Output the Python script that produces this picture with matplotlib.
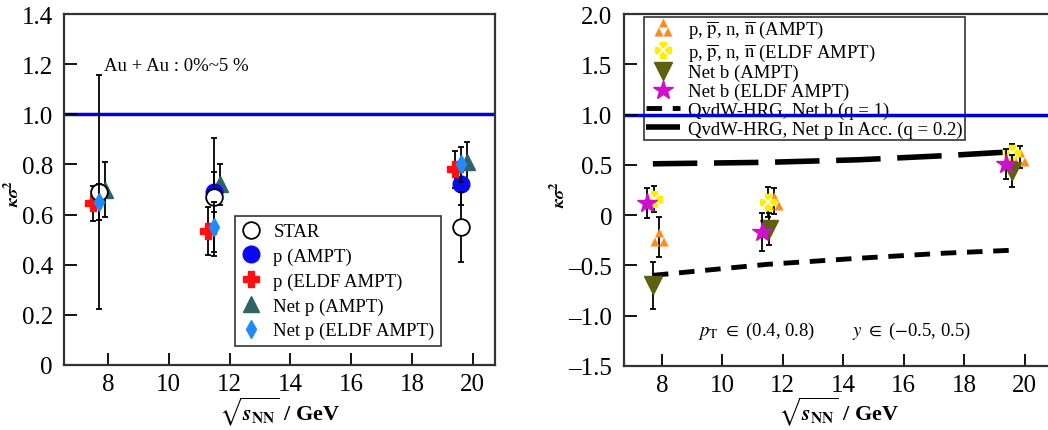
import numpy as np
import matplotlib
matplotlib.use("Agg")
import matplotlib.pyplot as plt
from matplotlib.path import Path
from matplotlib.ticker import FuncFormatter

plt.rcParams['font.family'] = ['Liberation Serif', 'DejaVu Serif']
plt.rcParams['mathtext.fontset'] = 'stix'

# ---- left panel: proton kappa*sigma^2
star_x = [7.7, 11.5, 19.6]
star_y = [0.69, 0.67, 0.55]
star_e = [0.465, 0.235, 0.14]

pa_x = [7.7, 11.5, 19.6]
pa_y = [0.69, 0.69, 0.72]
pa_e = [0.03, 0.08, 0.08]

pe_x = [7.5, 11.3, 19.4]
pe_y = [0.645, 0.535, 0.78]
pe_e = [0.07, 0.095, 0.075]

npa_x = [7.9, 11.7, 19.8]
npa_y = [0.70, 0.72, 0.81]
npa_e = [0.11, 0.08, 0.08]

npe_x = [7.7, 11.5, 19.6]
npe_y = [0.65, 0.55, 0.80]
npe_e = [0.07, 0.10, 0.07]

# ---- right panel: baryon kappa*sigma^2
nb4a_x = [7.9, 11.7, 19.85]
nb4a_y = [-0.22, 0.14, 0.58]
nb4a_e = [0.20, 0.13, 0.11]

nb4e_x = [7.75, 11.5, 19.6]
nb4e_y = [0.16, 0.13, 0.62]
nb4e_e = [0.13, 0.15, 0.09]

nba_x = [7.7, 11.55, 19.6]
nba_y = [-0.70, -0.14, 0.44]
nba_e = [0.23, 0.16, 0.16]

nbe_x = [7.5, 11.3, 19.4]
nbe_y = [0.12, -0.17, 0.51]
nbe_e = [0.15, 0.19, 0.15]

hrg_x = [7.7, 11.5, 14.5, 17.3, 19.6]
hrg_b = [-0.60, -0.49, -0.43, -0.38, -0.35]
hrg_p = [0.51, 0.525, 0.55, 0.59, 0.63]

# triangle split into three (white hole in the middle)
M, L, C = Path.MOVETO, Path.LINETO, Path.CLOSEPOLY
tri3 = Path([(0, 1), (-0.5, 0), (0.5, 0), (0, 1),
             (-0.5, 0), (-1, -1), (0, -1), (-0.5, 0),
             (0.5, 0), (0, -1), (1, -1), (0.5, 0)],
            [M, L, L, C] * 3)

fig = plt.figure(figsize=(10.48, 4.31), dpi=100)
ax1 = fig.add_axes([0.061, 0.151, 0.411, 0.814])
ax2 = fig.add_axes([0.595, 0.149, 0.41, 0.816])

eb = dict(ecolor='black', elinewidth=1.3, capsize=2.5, capthick=1.3, linestyle='none')

def style(ax, xlab):
    for s in ax.spines.values():
        s.set_linewidth(1.6)
        s.set_color('#333333')
    ax.tick_params(direction='in', length=9, width=1.3, labelsize=18, pad=6,
                   top=False, right=False)
    ax.tick_params(axis='y', pad=8)
    ax.set_xticks([8, 10, 12, 14, 16, 18, 20])
    ax.set_xlabel(r'$\sqrt{\mathbfit{s}_{\mathbf{NN}}}$ / GeV', fontsize=16,
                  fontweight='bold', labelpad=-1)
    ax.set_ylabel(r'$\mathbfit{\kappa\sigma}^{\mathbf{2}}$', fontsize=13)
    ax.yaxis.set_label_coords(xlab, 0.49)

def fmt(v, p):
    if abs(v) < 1e-9:
        return '0'
    return f'{v:.1f}'.replace('-', '\u2013')

# left
ax1.axhline(1.0, color='#0000dd', lw=2.5, zorder=1)
h1 = ax1.errorbar(star_x, star_y, yerr=star_e, marker='o', ms=12, mfc='white',
                  mec='black', mew=1.3, zorder=6, **eb)
h2 = ax1.errorbar(pa_x, pa_y, yerr=pa_e, marker='o', ms=12, mfc='#0a0af0',
                  mec='#0a0af0', zorder=5, **eb)
h3 = ax1.errorbar(pe_x, pe_y, yerr=pe_e, marker='P', ms=12, mfc='#ff1010',
                  mec='#ff1010', zorder=5, **eb)
h4 = ax1.errorbar(npa_x, npa_y, yerr=npa_e, marker='^', ms=11, mfc='#2f6464',
                  mec='#2f6464', zorder=4, **eb)
h5 = ax1.errorbar(npe_x, npe_y, yerr=npe_e, marker='d', ms=9, mfc='#1e8cff',
                  mec='#1e8cff', zorder=7, **eb)
ax1.text(7.87, 1.175, 'Au + Au : 0%~5 %', fontsize=13.5)
ax1.set_xlim(6.55, 20.72)
ax1.set_ylim(0, 1.4)
ax1.set_yticks(np.arange(0, 1.41, 0.2))
ax1.yaxis.set_major_formatter(FuncFormatter(fmt))
style(ax1, -0.095)
leg1 = ax1.legend([h1[0], h2[0], h3[0], h4[0], h5[0]],
                  ['STAR', 'p (AMPT)', 'p (ELDF AMPT)', 'Net p (AMPT)', 'Net p (ELDF AMPT)'],
                  loc='lower left', bbox_to_anchor=(0.397, 0.054), fontsize=13.5,
                  fancybox=False, edgecolor='#333333', framealpha=1,
                  handlelength=1.0, handletextpad=0.7, labelspacing=0.4,
                  borderpad=0.35, borderaxespad=0)
leg1.get_frame().set_linewidth(1.2)

# right
ax2.axhline(1.0, color='#0000dd', lw=2.5, zorder=1)
g1 = ax2.errorbar(nb4a_x, nb4a_y, yerr=nb4a_e, marker=tri3, ms=13, mfc='#ff8c1a',
                  mec='none', zorder=4, **eb)
g2 = ax2.errorbar(nb4e_x, nb4e_y, yerr=nb4e_e, marker='P', ms=12, mfc='#ffee00',
                  mec='#ffee00', zorder=5, **eb)
g2w, = ax2.plot(nb4e_x, nb4e_y, linestyle='none', marker='x', ms=6, mec='white',
                mew=1.3, zorder=5.5)
g3 = ax2.errorbar(nba_x, nba_y, yerr=nba_e, marker='v', ms=13, mfc='#5f5f0f',
                  mec='#5f5f0f', zorder=6, **eb)
g4 = ax2.errorbar(nbe_x, nbe_y, yerr=nbe_e, marker='*', ms=15, mfc='#cc10cc',
                  mec='#cc10cc', zorder=7, **eb)
l1, = ax2.plot(hrg_x, hrg_b, color='black', lw=3.5, dashes=(3.2, 2.2), zorder=3)
l2, = ax2.plot(hrg_x, hrg_p, color='black', lw=4, dashes=(8, 3), zorder=3)
ax2.text(9.2, -1.15, r'$p_{\mathrm{T}}$ $\in$ (0.4, 0.8)', fontsize=13.5, va='center')
ax2.text(14.3, -1.15, r'$y$ $\in$ ($-$0.5, 0.5)', fontsize=13.5, va='center')
ax2.set_xlim(6.73, 20.95)
ax2.set_ylim(-1.5, 2.0)
ax2.set_yticks(np.arange(-1.5, 2.01, 0.5))
ax2.yaxis.set_major_formatter(FuncFormatter(fmt))
style(ax2, -0.126)
lab_b = r'p, $\overline{\mathrm{p}}$, n, $\overline{\mathrm{n}}$'
leg2 = ax2.legend([g1[0], (g2[0], g2w), g3[0], g4[0], l1, l2],
                  [lab_b + ' (AMPT)', lab_b + ' (ELDF AMPT)', 'Net b (AMPT)',
                   'Net b (ELDF AMPT)', 'QvdW-HRG, Net b (q = 1)',
                   'QvdW-HRG, Net p In Acc. (q = 0.2)'],
                  loc='upper left', bbox_to_anchor=(0.047, 0.993), fontsize=13.5,
                  fancybox=False, edgecolor='#333333', framealpha=1,
                  handlelength=1.8, handletextpad=0.45, labelspacing=0.08,
                  borderpad=0.12, borderaxespad=0)
leg2.get_frame().set_facecolor('none')
leg2.get_frame().set_linewidth(1.2)
leg2.set_zorder(0.5)

fig.savefig('out.png', dpi=100)
